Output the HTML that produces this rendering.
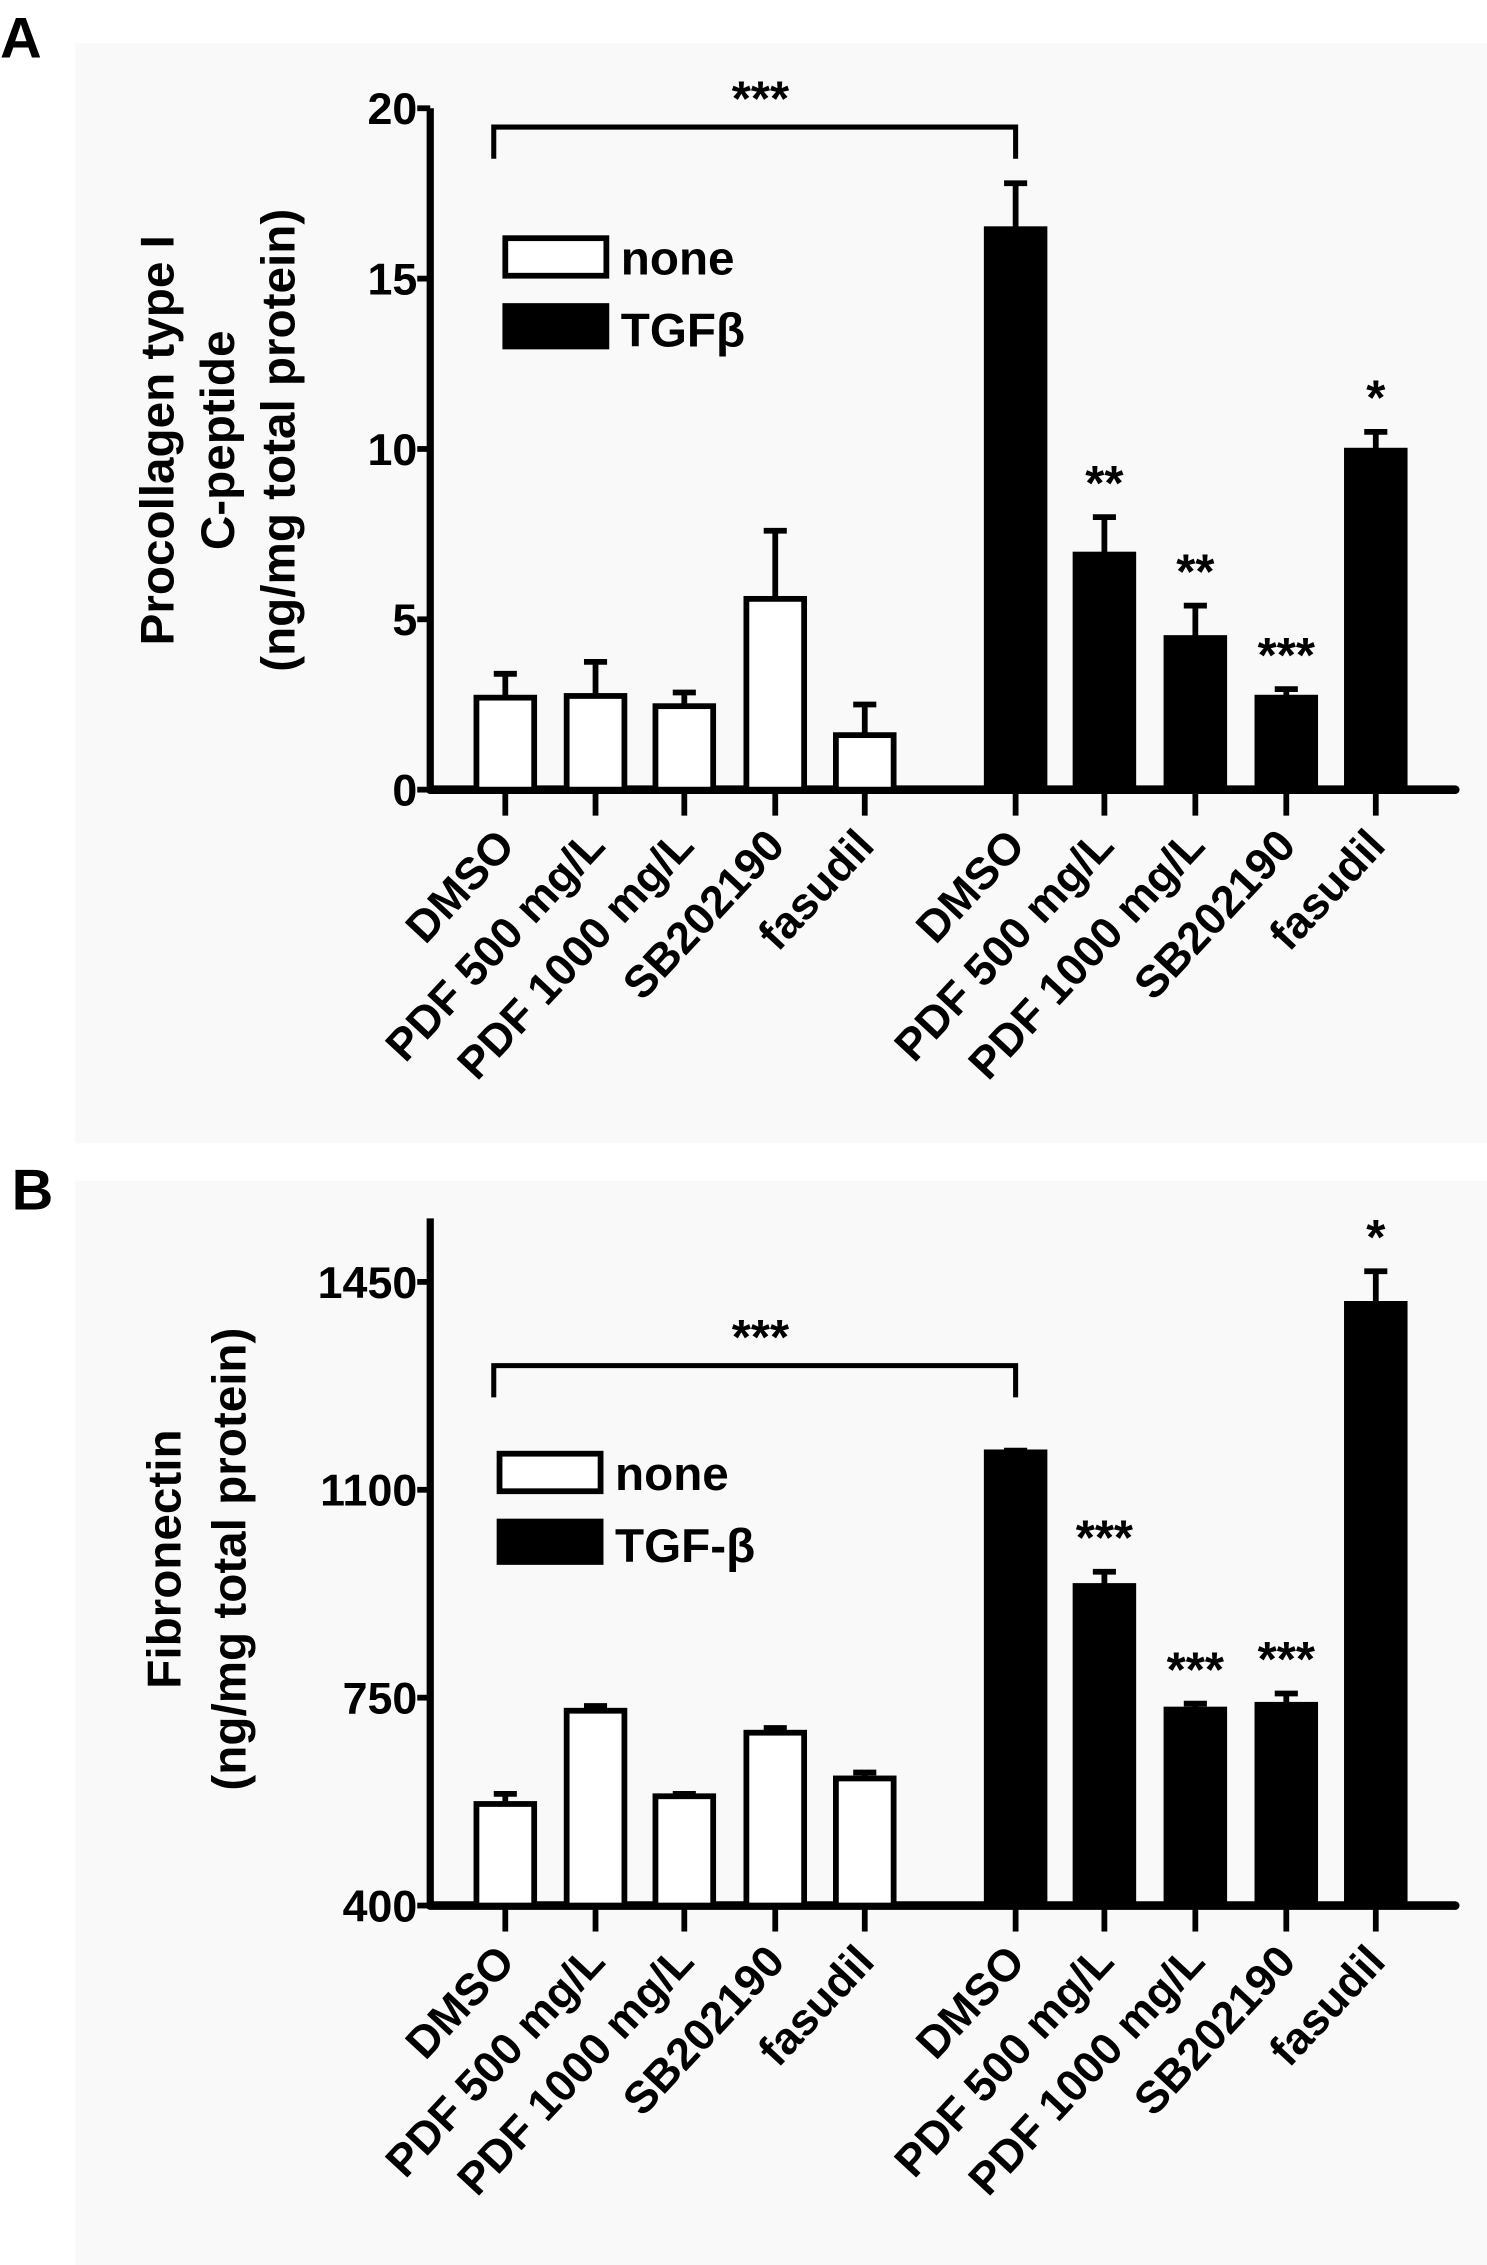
<!DOCTYPE html>
<html><head><meta charset="utf-8"><style>
html,body{margin:0;padding:0;background:#fff;}
svg{display:block;}
text{font-family:"Liberation Sans",Arial,sans-serif;font-weight:bold;fill:#000;}
</style></head><body>
<svg id="fig" width="1487" height="2265" viewBox="0 0 1030 1569" xmlns="http://www.w3.org/2000/svg">
<rect x="52" y="30" width="978" height="762" fill="#f9f9f9"/>
<rect x="52" y="818" width="978" height="751" fill="#f9f9f9"/>
<text x="0" y="40" font-size="40">A</text>
<text x="8" y="838" font-size="40">B</text>
<g id="ga"></g><g id="gb"></g>
</svg>
<script>
const categories = ["DMSO","PDF 500 mg/L","PDF 1000 mg/L","SB202190","fasudil"];
const aNone = [2.7, 2.75, 2.45, 5.6, 1.6];
const aNoneErr = [3.4, 3.75, 2.85, 7.6, 2.5];
const aTgf = [16.45, 6.9, 4.45, 2.7, 9.95];
const aTgfErr = [17.8, 8.0, 5.4, 2.95, 10.5];
const aTicks = [0,5,10,15,20];
const aStars = ["", "**", "**", "***", "*"];
const bNone = [571, 728, 584, 691, 614];
const bNoneErr = [588, 736, 588, 699, 624];
const bTgf = [1163, 938, 730, 738, 1413];
const bTgfErr = [1166, 962, 740, 757, 1468];
const bTicks = [400,750,1100,1450];
const bStars = ["", "***", "***", "***", "*"];
const NS="http://www.w3.org/2000/svg";
function mk(p,tag,at,txt){const e=document.createElementNS(NS,tag);for(const k in at)e.setAttribute(k,at[k]);if(txt!==undefined)e.textContent=txt;p.appendChild(e);return e;}
const cx=[350,412.5,474,537,599,703.5,765,828,891,953];
function panel(g,o){
  const y=v=>o.y0+(v-o.vmin)/(o.vmax-o.vmin)*(o.y1-o.y0);
  const ax=298;
  let e=mk(g,'line',{x1:ax,y1:o.top,x2:ax,y2:o.y0+2,stroke:'#000','stroke-width':5});
  
  
  e=mk(g,'line',{x1:ax,y1:o.y0,x2:1008,y2:o.y0,stroke:'#000','stroke-width':6,'stroke-linecap':'round'});
  
  
  o.ticks.forEach(t=>{
    e=mk(g,'line',{x1:ax-9,y1:y(t),x2:ax,y2:y(t),stroke:'#000','stroke-width':4});
    
    
    e=mk(g,'text',{x:ax-9,y:y(t)+11,'font-size':31,'text-anchor':'end'},String(t));
    
    
  });
  const all=[];
  for(let i=0;i<5;i++)all.push({v:o.none[i],e:o.noneErr[i],f:'#fff',s:'',c:categories[i]});
  for(let i=0;i<5;i++)all.push({v:o.tgf[i],e:o.tgfErr[i],f:'#000',s:o.stars[i],c:categories[i]});
  all.forEach((d,i)=>{
    const x=cx[i];
    e=mk(g,'line',{x1:x,y1:y(d.e),x2:x,y2:y(d.v),stroke:'#000','stroke-width':4});
    
    
    e=mk(g,'line',{x1:x-8,y1:y(d.e),x2:x+8,y2:y(d.e),stroke:'#000','stroke-width':4});
    
    
    e=mk(g,'rect',{x:x-20,y:y(d.v),width:40,height:o.y0-y(d.v),fill:d.f,stroke:'#000','stroke-width':4});
    
    
    e=mk(g,'line',{x1:x,y1:o.y0,x2:x,y2:o.y0+18,stroke:'#000','stroke-width':4});
    
    
    const ly=o.y0+40;
    e=mk(g,'text',{x:x+8,y:ly,'font-size':31,'text-anchor':'end',transform:`rotate(-47 ${x+8} ${ly})`},d.c);
    
    
    if(d.s){
      e=mk(g,'text',{x:x,y:y(d.e)-12,'font-size':34,'text-anchor':'middle'},d.s);
      
      
    }
  });
  e=mk(g,'path',{d:`M${cx[0]-8} ${o.brY+22} V${o.brY} H${cx[5]} V${o.brY+22}`,fill:'none',stroke:'#000','stroke-width':3.5});
  
  
  e=mk(g,'text',{x:(cx[0]+cx[5])/2,y:o.brY-8,'font-size':34,'text-anchor':'middle'},'***');
  
  
  e=mk(g,'rect',{x:o.lx,y:o.ly,width:70,height:26,fill:'#fff',stroke:'#000','stroke-width':4});
  
  
  e=mk(g,'text',{x:o.lx+80,y:o.ly+25,'font-size':33},'none');
  
  
  e=mk(g,'rect',{x:o.lx,y:o.ly+47,width:70,height:28,fill:'#000',stroke:'#000','stroke-width':4});
  
  
  e=mk(g,'text',{x:o.lx+80,y:o.ly+75,'font-size':33},o.tgfName);
  
  
  o.title.forEach((t,i)=>{
    const tx=o.titleX[i];
    e=mk(g,'text',{x:tx,y:o.titleY,'font-size':33,'text-anchor':'middle',transform:`rotate(-90 ${tx} ${o.titleY})`},t);
    
    
  });
}
panel(document.getElementById('ga'),{y0:547,y1:75,vmin:0,vmax:20,top:75,ticks:aTicks,none:aNone,noneErr:aNoneErr,tgf:aTgf,tgfErr:aTgfErr,stars:aStars,brY:88,lx:350,ly:165,tgfName:'TGFβ',title:['Procollagen type I','C-peptide','(ng/mg total protein)'],titleX:[120,162,204],titleY:305});
panel(document.getElementById('gb'),{y0:1320,y1:888,vmin:400,vmax:1450,top:844,ticks:bTicks,none:bNone,noneErr:bNoneErr,tgf:bTgf,tgfErr:bTgfErr,stars:bStars,brY:946,lx:346,ly:1007,tgfName:'TGF-β',title:['Fibronectin','(ng/mg total protein)'],titleX:[125,170],titleY:1080});
</script>
</body></html>
